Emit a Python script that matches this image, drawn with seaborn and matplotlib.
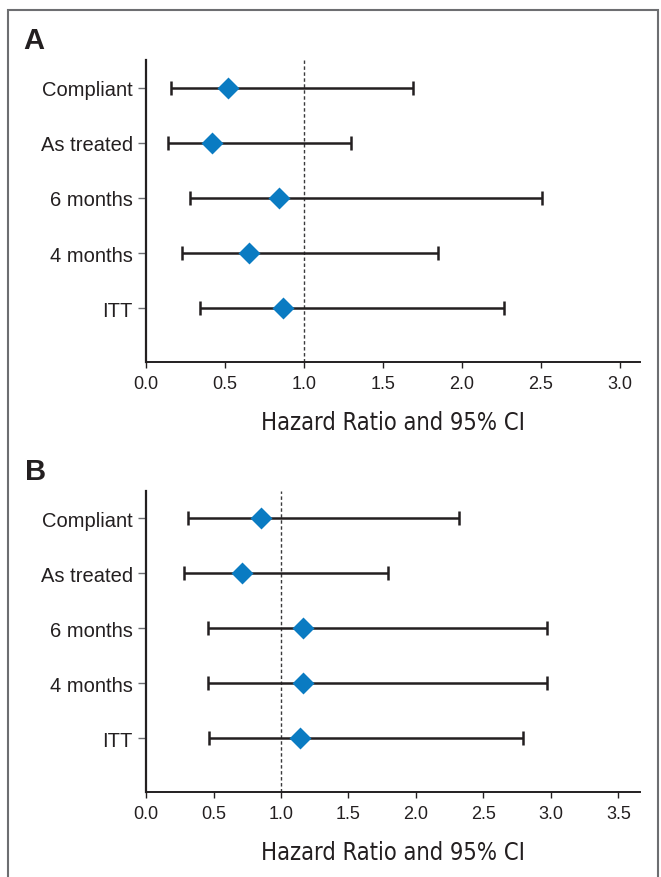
import matplotlib
matplotlib.use('Agg')
import matplotlib.pyplot as plt
from matplotlib import font_manager
from matplotlib.patches import Rectangle
import numpy as np
import seaborn as sns


groups = ['Compliant', 'As treated', '6 months', '4 months', 'ITT']

# panel A
hr_a = [0.52, 0.42, 0.84, 0.65, 0.87]
lo_a = [0.16, 0.14, 0.28, 0.23, 0.34]
hi_a = [1.69, 1.30, 2.51, 1.85, 2.27]

# panel B
hr_b = [0.85, 0.71, 1.16, 1.16, 1.14]
lo_b = [0.31, 0.28, 0.46, 0.46, 0.47]
hi_b = [2.32, 1.79, 2.97, 2.97, 2.79]

xticks_a = [0.0, 0.5, 1.0, 1.5, 2.0, 2.5, 3.0]
xticks_b = [0.0, 0.5, 1.0, 1.5, 2.0, 2.5, 3.0, 3.5]

BLUE = '#0a7bc2'
INK = '#231f20'
GREY = '#6d6e71'

sns.set_theme(style='ticks')
plt.rcParams['font.family'] = ['Liberation Sans', 'DejaVu Sans']

names = {f.name for f in font_manager.fontManager.ttflist}
if 'Liberation Sans Narrow' in names:
    label_font = dict(family=['Liberation Sans Narrow', 'DejaVu Sans'])
else:
    label_font = dict(family=['DejaVu Sans'], stretch='condensed')


def forest(ax, hr, lo, hi, xticks, xmax):
    hr, lo, hi = np.array(hr), np.array(lo), np.array(hi)
    ypos = np.arange(len(groups))[::-1]
    ax.axvline(1.0, color='#3a3a3c', lw=1.0, ls=(0, (2.5, 1.8)), zorder=1)
    ax.errorbar(hr, ypos, xerr=[hr - lo, hi - hr], fmt='none', ecolor=INK,
                elinewidth=1.8, capsize=4.7, capthick=1.8, zorder=2)
    sns.scatterplot(x=hr, y=ypos, marker='D', s=125, color=BLUE,
                    linewidth=0, ax=ax, zorder=3, legend=False)
    ax.set_yticks(ypos)
    ax.set_yticklabels(groups, fontsize=14.5, color=INK)
    ax.set_ylim(-0.98, 4.5)
    ax.set_xlim(0, xmax)
    ax.set_xticks(xticks)
    ax.set_xticklabels([f'{t:.1f}' for t in xticks], fontsize=13, color=INK)
    ax.tick_params(axis='y', length=5.5, width=1.0, color=GREY, pad=4)
    ax.tick_params(axis='x', length=4, width=1.0, color=INK, pad=5)
    ax.set_xlabel('Hazard Ratio and 95% CI', fontsize=17, color=INK,
                  labelpad=13, **label_font)
    ax.set_ylabel('')
    sns.despine(ax=ax)
    ax.spines['left'].set_linewidth(1.6)
    ax.spines['bottom'].set_linewidth(1.4)
    ax.spines['left'].set_color(INK)
    ax.spines['bottom'].set_color(INK)


fig = plt.figure(figsize=(6.61, 8.78), dpi=100)
ax_a = fig.add_axes([0.2209, 0.5862, 0.7474, 0.3443])
ax_b = fig.add_axes([0.2209, 0.0965, 0.7474, 0.3435])

forest(ax_a, hr_a, lo_a, hi_a, xticks_a, 3.13)
forest(ax_b, hr_b, lo_b, hi_b, xticks_b, 3.66)

fig.text(23 / 661, 1 - 49 / 878, 'A', fontsize=21, fontweight='bold',
         color=INK, va='baseline', ha='left')
fig.text(25 / 661, 1 - 480 / 878, 'B', fontsize=21, fontweight='bold',
         color=INK, va='baseline', ha='left')

# frame round the figure, open at the bottom
fig.add_artist(Rectangle((8 / 661, -0.05), 650 / 661, 1.05 - 11 / 878,
                         transform=fig.transFigure, fill=False,
                         edgecolor=GREY, linewidth=1.5))

fig.savefig('out.png', dpi=100)
